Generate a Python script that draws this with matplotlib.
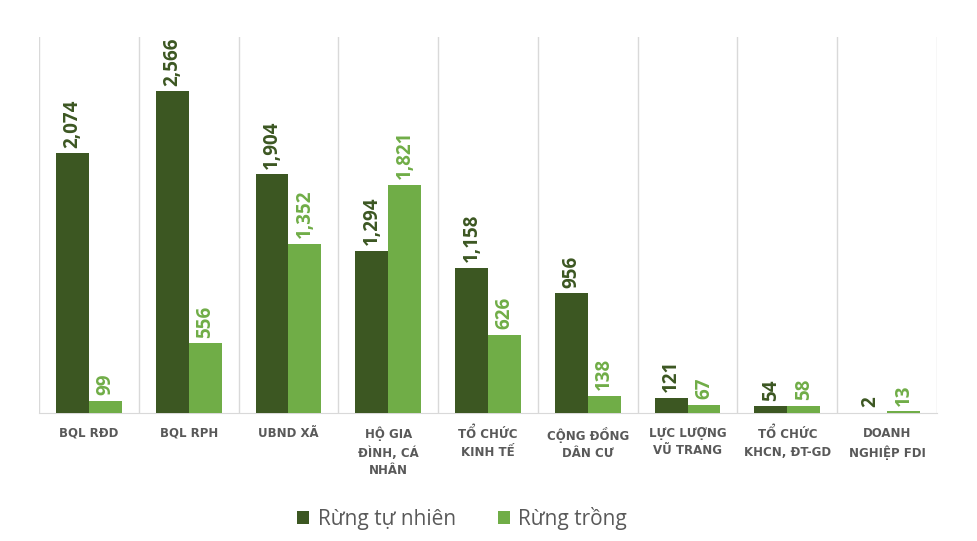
import matplotlib
matplotlib.use("Agg")
import matplotlib.pyplot as plt
import numpy as np

categories = ["BQL RĐD", "BQL RPH", "UBND XÃ", "HỘ GIA\nĐÌNH, CÁ\nNHÂN", "TỔ CHỨC\nKINH TẾ",
              "CỘNG ĐỒNG\nDÂN CƯ", "LỰC LƯỢNG\nVŨ TRANG", "TỔ CHỨC\nKHCN, ĐT-GD", "DOANH\nNGHIỆP FDI"]
tu_nhien = [2074, 2566, 1904, 1294, 1158, 956, 121, 54, 2]
trong = [99, 556, 1352, 1821, 626, 138, 67, 58, 13]
series_names = ["Rừng tự nhiên", "Rừng trồng"]

dark = "#3c5722"
light = "#70ad47"

plt.rcParams['font.family'] = ['Open Sans', 'DejaVu Sans']

fig = plt.figure(figsize=(9.77, 5.41), dpi=100)
ax = fig.add_axes([39/977, 1-413/541, (937-39)/977, (413-37)/541])

x = np.arange(len(categories))
w = 0.33
b1 = ax.bar(x - w/2, tu_nhien, w, color=dark, label=series_names[0], zorder=3)
b2 = ax.bar(x + w/2, trong, w, color=light, label=series_names[1], zorder=3)

for rect, v in zip(b1, tu_nhien):
    ax.annotate(f"{v:,}", (rect.get_x() + rect.get_width()/2, rect.get_height()),
                xytext=(0, 4), textcoords="offset points", rotation=90,
                ha="center", va="bottom", fontsize=13.5, fontweight="bold", color=dark)
for rect, v in zip(b2, trong):
    ax.annotate(f"{v:,}", (rect.get_x() + rect.get_width()/2, rect.get_height()),
                xytext=(0, 4), textcoords="offset points", rotation=90,
                ha="center", va="bottom", fontsize=13.5, fontweight="bold", color=light)

ax.set_xlim(-0.5, len(categories) - 0.5)
ax.set_ylim(0, 3000)
ax.set_yticks([])
ax.set_xticks(x)
ax.set_xticklabels(categories, fontsize=8.5, fontweight="bold", color="#595959",
                   linespacing=1.45, family=['DejaVu Sans'])
ax.tick_params(axis="x", length=0, pad=10)
ax.set_xticks(np.arange(-0.5, len(categories)), minor=True)
ax.tick_params(axis="x", which="minor", length=0)
ax.grid(axis="x", which="minor", color="#d9d9d9", linewidth=1, zorder=0)
for s in ["top", "right", "left"]:
    ax.spines[s].set_visible(False)
ax.spines["bottom"].set_color("#d9d9d9")

fig.legend(handles=[b1, b2], labels=series_names, loc="center", bbox_to_anchor=(462/977, 1-518/541),
           ncol=2, frameon=False, fontsize=15, handlelength=0.6, handleheight=0.6,
           columnspacing=2.0, handletextpad=0.4, labelcolor="#595959")

fig.savefig("out.png", dpi=100)
